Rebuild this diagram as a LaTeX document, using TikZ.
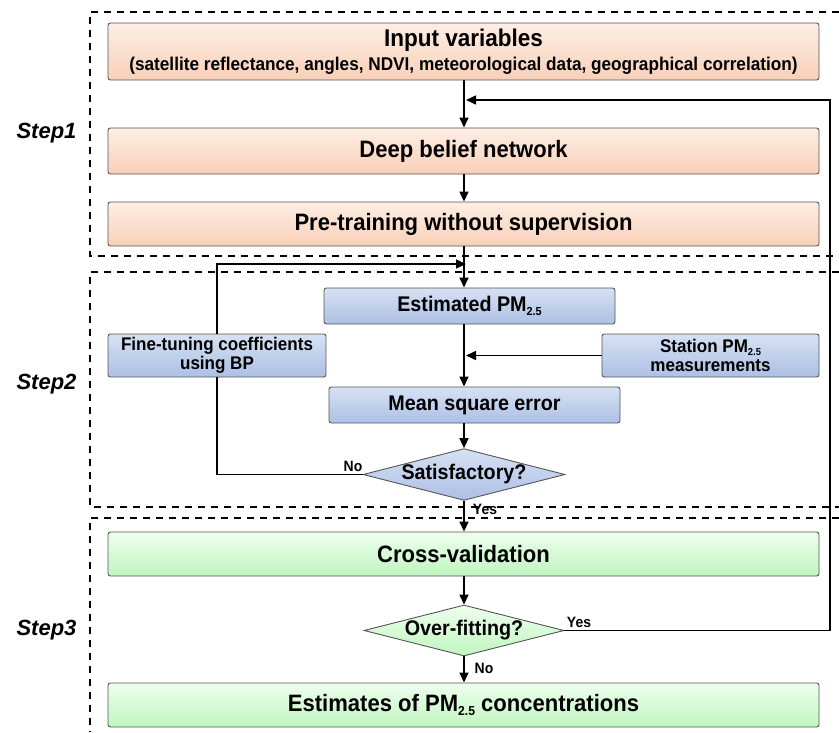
\documentclass[tikz,border=0pt]{standalone}
\usepackage{fontspec}
\setmainfont{Liberation Sans}
\newfontfamily\bx{Liberation Sans}[FakeStretch=0.93]
\usetikzlibrary{arrows.meta,shapes.geometric,calc}
\newcommand{\pmx}{PM\raisebox{-0.3ex}{\scalebox{0.55}{2.5}}}
\definecolor{orT}{RGB}{253,238,228}
\definecolor{orB}{RGB}{249,208,184}
\definecolor{blT}{RGB}{214,225,243}
\definecolor{blB}{RGB}{172,192,229}
\definecolor{grT}{RGB}{238,255,238}
\definecolor{grB}{RGB}{192,245,192}
\definecolor{bord}{RGB}{85,85,85}
\tikzset{
  basebox/.style={draw=bord, line width=0.9pt, rounded corners=2.5pt, inner sep=0pt},
  obox/.style={basebox, top color=orT, bottom color=orB},
  bbox/.style={basebox, top color=blT, bottom color=blB},
  gbox/.style={basebox, top color=grT, bottom color=grB},
  bdia/.style={draw=bord, line width=0.9pt, diamond, aspect=3.9, inner sep=0pt, top color=blT, bottom color=blB},
  gdia/.style={draw=bord, line width=0.9pt, diamond, aspect=3.9, inner sep=0pt, top color=grT, bottom color=grB},
  fbig/.style={font=\bx\bfseries\fontsize{23.7}{26}\selectfont},
  fmid/.style={font=\bx\bfseries\fontsize{21.2}{24}\selectfont},
  fsmall/.style={font=\bx\bfseries\fontsize{18.3}{18.5}\selectfont, align=center},
  flab/.style={font=\bx\bfseries\fontsize{15}{16}\selectfont, inner sep=0pt},
  fstep/.style={font=\bfseries\itshape\fontsize{22}{25}\selectfont},
  stepframe/.style={dashed, dash pattern=on 7pt off 6pt, line width=1.2pt},
  conn/.style={line width=1.5pt},
  arr/.style={conn, -{Triangle[length=10pt,width=9pt]}},
}
\begin{document}
\begin{tikzpicture}[x=1pt,y=-1pt]
\useasboundingbox (0,0) rectangle (839,732);
% dashed step frames
\draw[stepframe] (839,12) -- (90,12) -- (90,256) -- (839,256);
\draw[stepframe] (839,272) -- (90,272) -- (90,507) -- (839,507);
\draw[stepframe] (839,518) -- (90,518) -- (90,732);
% step labels
\node[fstep] (s1) at (46.5,133) {Step1};
\node[fstep] (s2) at (46.5,384) {Step2};
\node[fstep] (s3) at (46.5,630) {Step3};
% boxes
\node[obox, minimum width=711pt, minimum height=57pt] (inp) at (463.5,51.5) {};
\node[font=\bx\bfseries\fontsize{24.2}{26}\selectfont] (inpT) at (463.5,40.5) {Input variables};
\node[font=\bx\bfseries\fontsize{18.5}{20}\selectfont] (inpS) at (463.5,66) {(satellite reflectance, angles, NDVI, meteorological data, geographical correlation)};
\node[obox, minimum width=711pt, minimum height=46pt, fbig] (dbn) at (463.5,151) {Deep belief network};
\node[obox, minimum width=711pt, minimum height=44pt, fbig] (pre) at (463.5,224) {Pre-training without supervision};
\node[bbox, minimum width=291pt, minimum height=36pt, fmid] (est) at (469.5,306) {Estimated \pmx};
\node[bbox, minimum width=218pt, minimum height=43pt, fsmall] (fine) at (217,355.5) {Fine-tuning coefficients\\using BP};
\node[bbox, minimum width=217pt, minimum height=43pt, fsmall] (sta) at (710.5,355.5) {Station \pmx\\measurements};
\node[bbox, minimum width=291pt, minimum height=36pt, fmid] (mse) at (474.5,405) {Mean square error};
\node[bdia, minimum width=198pt, minimum height=51pt, fmid] (sat) at (464,474.5) {Satisfactory?};
\node[gbox, minimum width=711pt, minimum height=44pt, fbig] (cv) at (463.5,554) {Cross-validation};
\node[gdia, minimum width=200pt, minimum height=51pt, fmid] (ovf) at (464,630.5) {Over-fitting?};
\node[gbox, minimum width=711pt, minimum height=44pt, fbig] (fin) at (463.5,705) {Estimates of \pmx{} concentrations};
% helper coordinates
\coordinate (spine) at (464,0);
\coordinate (fbright) at (830,100);
\coordinate (fbtop) at (466,100);
\coordinate (looptop) at (466,264);
\coordinate (stmeet) at (466,355.5);
% connectors
\draw[arr] (inp.south -| spine) -- (dbn.north -| spine);
\draw[arr] (dbn.south -| spine) -- (pre.north -| spine);
\draw[arr] (pre.south -| spine) -- (est.north -| spine);
\draw[arr] (est.south -| spine) -- (mse.north -| spine);
\draw[arr] (sta.west) -- (stmeet);
\draw[arr] (mse.south -| spine) -- (sat.north);
\draw[conn] (sat.west) -| (fine.south);
\draw[arr] (fine.north) |- (looptop);
\draw[arr] (sat.south) -- (cv.north -| spine);
\draw[arr] (cv.south -| spine) -- (ovf.north);
\draw[arr] (ovf.south) -- (fin.north -| spine);
\draw[arr] (ovf.east) -| (fbright) -- (fbtop);
% labels
\node[flab] (no1) at (353,466) {No};
\node[flab] (yes1) at (485,509) {Yes};
\node[flab] (yes2) at (579,622) {Yes};
\node[flab] (no2) at (484,668) {No};
\end{tikzpicture}
\end{document}
